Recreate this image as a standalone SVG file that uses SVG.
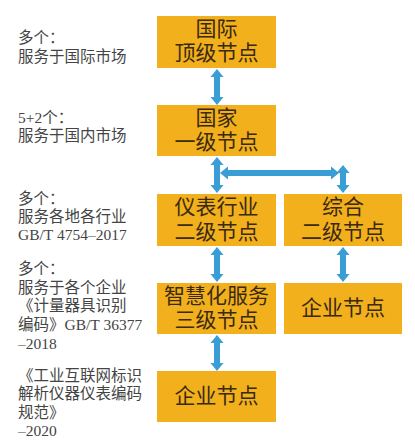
<svg xmlns="http://www.w3.org/2000/svg" width="415" height="446" viewBox="0 0 415 446">
<style>
.box{fill:#F2B01C;}
.bt{font-family:"Liberation Serif","Noto Sans CJK SC",serif;font-size:21px;fill:#3a2a12;text-anchor:middle;dominant-baseline:central;}
.lt{font-family:"Liberation Serif","Noto Sans CJK SC",serif;font-size:15.5px;fill:#444;dominant-baseline:central;}
.ar{stroke:#3A9ED6;stroke-width:6;fill:none;marker-start:url(#ah);marker-end:url(#ah);}
</style>
<defs>
<marker id="ah" markerUnits="userSpaceOnUse" markerWidth="10" markerHeight="14" viewBox="0 -7 9 14" refX="2" refY="0" orient="auto-start-reverse">
<path d="M0,-6.5 L8,0 L0,6.5 z" fill="#3A9ED6"/>
</marker>
</defs>
<rect width="415" height="446" fill="#fff"/>
<g id="labels">
<text class="lt" x="18" y="37">多个：</text>
<text class="lt" x="18" y="56">服务于国际市场</text>
<text class="lt" x="18" y="117">5+2个：</text>
<text class="lt" x="18" y="135">服务于国内市场</text>
<text class="lt" x="18" y="198">多个：</text>
<text class="lt" x="18" y="216">服务各地各行业</text>
<text class="lt" x="18" y="234">GB/T 4754–2017</text>
<text class="lt" x="18" y="268">多个：</text>
<text class="lt" x="18" y="287">服务于各个企业</text>
<text class="lt" x="18" y="305">《计量器具识别</text>
<text class="lt" x="18" y="324">编码》GB/T 36377</text>
<text class="lt" x="18" y="343">–2018</text>
<text class="lt" x="18" y="375">《工业互联网标识</text>
<text class="lt" x="18" y="393">解析仪器仪表编码</text>
<text class="lt" x="18" y="412">规范》</text>
<text class="lt" x="18" y="430">–2020</text>
</g>
<g id="connectors">
<line class="ar" x1="217" y1="75" x2="217" y2="99"/>
<line class="ar" x1="217" y1="163" x2="217" y2="187"/>
<line class="ar" x1="226" y1="173" x2="333" y2="173"/>
<line class="ar" x1="343" y1="171" x2="343" y2="187"/>
<line class="ar" x1="217" y1="253" x2="217" y2="276"/>
<line class="ar" x1="343" y1="253" x2="343" y2="276"/>
<line class="ar" x1="217" y1="341" x2="217" y2="365"/>
</g>
<g id="n1"><rect class="box" x="157" y="16" width="119" height="52"/><text class="bt" x="216.5" y="29">国际</text><text class="bt" x="216.5" y="53">顶级节点</text></g>
<g id="n2"><rect class="box" x="157" y="105" width="119" height="51"/><text class="bt" x="216.5" y="118">国家</text><text class="bt" x="216.5" y="142">一级节点</text></g>
<g id="n3"><rect class="box" x="157" y="194" width="119" height="52"/><text class="bt" x="216.5" y="207">仪表行业</text><text class="bt" x="216.5" y="232">二级节点</text></g>
<g id="n4"><rect class="box" x="284" y="194" width="118" height="52"/><text class="bt" x="343" y="207">综合</text><text class="bt" x="343" y="232">二级节点</text></g>
<g id="n5"><rect class="box" x="157" y="283" width="119" height="51"/><text class="bt" x="216.5" y="296">智慧化服务</text><text class="bt" x="216.5" y="320">三级节点</text></g>
<g id="n6"><rect class="box" x="284" y="283" width="118" height="51"/><text class="bt" x="343" y="308">企业节点</text></g>
<g id="n7"><rect class="box" x="157" y="371" width="119" height="51"/><text class="bt" x="216.5" y="396">企业节点</text></g>
</svg>
